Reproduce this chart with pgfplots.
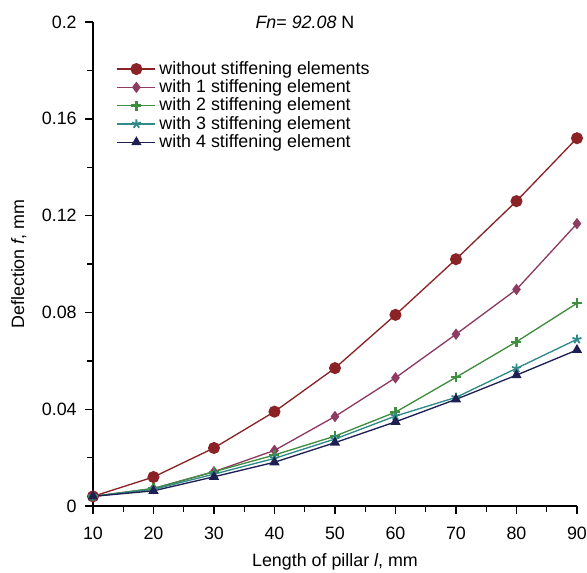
\documentclass[border=0pt]{standalone}
\usepackage{fontspec}
\setmainfont{Liberation Sans}
\usepackage{pgfplots}
\pgfplotsset{compat=1.18}
\definecolor{cRed}{HTML}{8B2326}
\definecolor{cPur}{HTML}{8E3B62}
\definecolor{cGrn}{HTML}{3F8D3F}
\definecolor{cTeal}{HTML}{2F8A88}
\definecolor{cNavy}{HTML}{1E1F52}
\begin{document}
\fontsize{10.7}{12.8}\selectfont
\begin{tikzpicture}
\begin{axis}[
  scale only axis, width=290pt, height=290pt,
  xmin=10, xmax=90, ymin=0, ymax=0.2, enlargelimits=false,
  xtick={10,20,...,90}, ytick={0,0.04,...,0.2},
  minor tick num=1,
  axis x line*=bottom, axis y line*=left,
  axis line style={line width=0.9pt},
  x axis line style={-}, y axis line style={-},
  tick align=outside, major tick length=4.5pt, minor tick length=3.5pt,
  tick style={line width=0.8pt, black},
  scaled y ticks=false,
  /pgf/number format/assume math mode=true,
  yticklabel style={/pgf/number format/fixed, /pgf/number format/precision=2, xshift=-1.5pt},
  xticklabel style={yshift=-4pt},
  xlabel={Length of pillar \textit{l}, mm},
  ylabel={Deflection \textit{f}, mm},
  xlabel style={yshift=-1pt},
  ylabel style={yshift=2pt},
  title={\textit{Fn}= \textit{92.08} N},
  title style={at={(0.438,1)}, anchor=base, yshift=-10pt, font=\fontsize{10.7}{12.8}\selectfont},
  every tick label/.append style={font=\fontsize{10.7}{12.8}\selectfont},
  label style={font=\fontsize{10.7}{12.8}\selectfont},
  legend style={at={(0.045,0.93)}, anchor=north west, draw=none, fill=none,
    font=\fontsize{10.7}{11}\selectfont, row sep=-2.4pt, inner sep=1pt},
  legend cell align=left,
  legend image code/.code={\draw[mark repeat=2, mark phase=2]
    plot coordinates {(0cm,0cm) (0.4cm,0cm) (0.8cm,0cm)};},
  every axis plot/.append style={line width=0.8pt},
]
\addplot[color=cRed, mark=*, mark size=3.2pt] coordinates {
  (10,0.004) (20,0.012) (30,0.024) (40,0.039) (50,0.057) (60,0.079) (70,0.102) (80,0.126) (90,0.152)};
\addlegendentry{without stiffening elements}
\addplot[color=cPur, mark=diamond*, mark size=2.8pt] coordinates {
  (10,0.004) (20,0.0072) (30,0.0142) (40,0.023) (50,0.037) (60,0.053) (70,0.071) (80,0.0895) (90,0.1167)};
\addlegendentry{with 1 stiffening element}
\addplot[color=cGrn, mark=+, mark size=3pt, mark options={line width=1.4pt}] coordinates {
  (10,0.004) (20,0.0073) (30,0.0142) (40,0.0211) (50,0.0289) (60,0.0388) (70,0.0532) (80,0.0679) (90,0.0838)};
\addlegendentry{with 2 stiffening element}
\addplot[color=cTeal, mark=star, mark size=2.8pt, mark options={line width=1.1pt}] coordinates {
  (10,0.004) (20,0.0069) (30,0.0132) (40,0.0197) (50,0.0277) (60,0.0372) (70,0.0449) (80,0.0569) (90,0.0689)};
\addlegendentry{with 3 stiffening element}
\addplot[color=cNavy, mark=triangle*, mark size=2.8pt] coordinates {
  (10,0.004) (20,0.0063) (30,0.0121) (40,0.0181) (50,0.0262) (60,0.0348) (70,0.0441) (80,0.0541) (90,0.0645)};
\addlegendentry{with 4 stiffening element}
\end{axis}
\pgfresetboundingbox
\path ([shift={(-55.7pt,-40.1pt)}]current axis.south west) rectangle ([shift={(6pt,13.2pt)}]current axis.north east);
\end{tikzpicture}
\end{document}
